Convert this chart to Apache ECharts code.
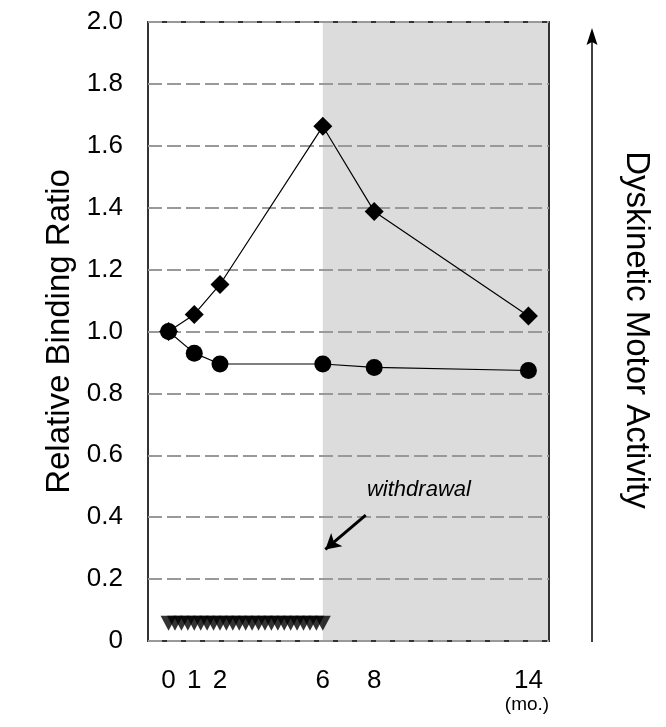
<!DOCTYPE html>
<html>
<head>
<meta charset="utf-8">
<script src="https://cdn.jsdelivr.net/npm/echarts@6/dist/echarts.min.js"></script>
<style>
html,body{margin:0;padding:0;background:#fff;}
#chart{width:666px;height:727px;}
</style>
</head>
<body>
<div id="chart"></div>
<script>
// ---- data ----
var xTicks = [0, 1, 2, 6, 8, 14];
var diamondX = [0, 1, 2, 6, 8, 14];
var diamondY = [1.0, 1.055, 1.152, 1.663, 1.388, 1.05];
var circleX = [0, 1, 2, 6, 8, 14];
var circleY = [1.0, 0.93, 0.895, 0.895, 0.884, 0.874];
var doseX = [0, 0.25, 0.5, 0.75, 1, 1.25, 1.5, 1.75, 2, 2.25, 2.5, 2.75, 3, 3.25, 3.5, 3.75, 4, 4.25, 4.5, 4.75, 5, 5.25, 5.5, 5.75, 6];
var doseY = [0.057, 0.057, 0.057, 0.057, 0.057, 0.057, 0.057, 0.057, 0.057, 0.057, 0.057, 0.057, 0.057, 0.057, 0.057, 0.057, 0.057, 0.057, 0.057, 0.057, 0.057, 0.057, 0.057, 0.057, 0.057];
var withdrawalStart = 6;
var xMin = -0.8, xMax = 14.8;
var yMin = 0, yMax = 2, yStep = 0.2;

function pairs(xs, ys) { return xs.map(function (x, i) { return [x, ys[i]]; }); }

var FONT = '"Liberation Sans", Arial, sans-serif';
var chart = echarts.init(document.getElementById('chart'));
chart.setOption({
  animation: false,
  backgroundColor: '#fff',
  grid: {
    left: 148, top: 22, right: 117, bottom: 86,
    show: true, borderColor: '#333', borderWidth: 2, backgroundColor: 'transparent', z: 1
  },
  xAxis: {
    type: 'value', min: xMin, max: xMax,
    axisLine: { show: false }, axisTick: { show: false }, splitLine: { show: false },
    axisLabel: { customValues: xTicks, fontSize: 26, color: '#000', fontFamily: FONT, margin: 27 }
  },
  yAxis: {
    type: 'value', min: yMin, max: yMax, interval: yStep, z: 1,
    name: 'Relative Binding Ratio', nameLocation: 'middle', nameGap: 67, nameRotate: 90,
    nameTextStyle: { fontSize: 33, color: '#000', fontFamily: FONT },
    axisLine: { show: false }, axisTick: { show: false },
    splitLine: { show: true, lineStyle: { color: '#999', width: 2, type: [14, 5] } },
    axisLabel: {
      fontSize: 26, color: '#000', fontFamily: FONT, margin: 25,
      formatter: function (v) { return v === 0 ? '0' : v.toFixed(1); }
    }
  },
  series: [
    {
      type: 'line', data: [], z: 0,
      markArea: {
        silent: true, z: 0,
        itemStyle: { color: '#dcdcdc' },
        data: [[{ xAxis: withdrawalStart }, { xAxis: xMax }]]
      }
    },
    {
      type: 'line', data: pairs(diamondX, diamondY), z: 3,
      symbol: 'diamond', symbolSize: 19,
      itemStyle: { color: '#000' }, lineStyle: { color: '#000', width: 1.2 }
    },
    {
      type: 'line', data: pairs(circleX, circleY), z: 3,
      symbol: 'circle', symbolSize: 17,
      itemStyle: { color: '#000' }, lineStyle: { color: '#000', width: 1.2 }
    },
    {
      type: 'scatter', data: pairs(doseX, doseY), z: 3,
      symbol: 'triangle', symbolRotate: 180, symbolSize: [16, 15],
      itemStyle: { color: '#000' }
    },
    {
      type: 'line', data: [], z: 4,
      markLine: {
        silent: true, symbol: ['none', 'arrow'], symbolSize: [13, 15],
        lineStyle: { color: '#000', width: 3, type: 'solid' },
        label: { show: false },
        data: [[{ coord: [7.67, 0.407] }, { coord: [6.1, 0.296] }]]
      },
      markPoint: {
        silent: true, symbol: 'circle', symbolSize: 0,
        label: {
          show: true, position: 'inside', formatter: 'withdrawal',
          fontSize: 22, fontStyle: 'italic', color: '#000', fontFamily: FONT
        },
        data: [{ coord: [9.74, 0.488] }]
      }
    }
  ],
  graphic: [
    { type: 'line', shape: { x1: 592, y1: 642, x2: 592, y2: 40 }, style: { stroke: '#000', lineWidth: 1.5 } },
    { type: 'polygon', shape: { points: [[592, 28], [586.5, 45], [592, 42], [597.5, 45]] }, style: { fill: '#000' } },
    {
      type: 'text', x: 636, y: 330, rotation: -Math.PI / 2,
      style: { text: 'Dyskinetic Motor Activity', fontSize: 33, fontFamily: FONT, fill: '#000', align: 'center', verticalAlign: 'middle' }
    },
    {
      type: 'text', x: 527, y: 705,
      style: { text: '(mo.)', fontSize: 19, fontFamily: FONT, fill: '#000', align: 'center', verticalAlign: 'middle' }
    }
  ]
});
</script>
</body>
</html>
